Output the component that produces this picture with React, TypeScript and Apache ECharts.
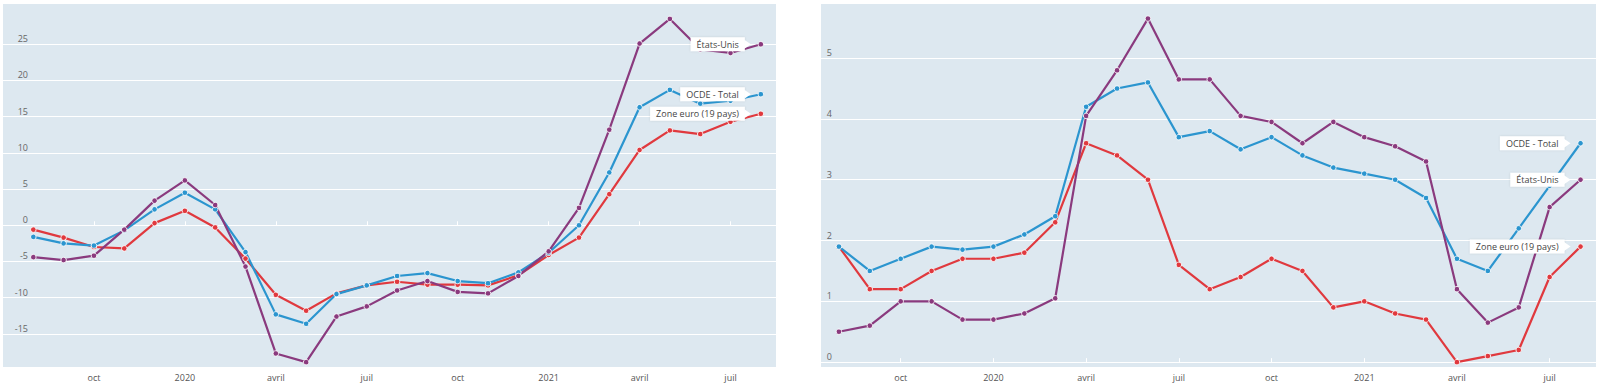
import { useEffect, useRef } from 'react';
import * as echarts from 'echarts';

const months = [
  '2019-08', '2019-09', '2019-10', '2019-11', '2019-12',
  '2020-01', '2020-02', '2020-03', '2020-04', '2020-05', '2020-06',
  '2020-07', '2020-08', '2020-09', '2020-10', '2020-11', '2020-12',
  '2021-01', '2021-02', '2021-03', '2021-04', '2021-05', '2021-06',
  '2021-07', '2021-08',
];

const tickMonths = ['2019-10', '2020-01', '2020-04', '2020-07', '2020-10', '2021-01', '2021-04', '2021-07'];
const tickLabels = ['oct', '2020', 'avril', 'juil', 'oct', '2021', 'avril', 'juil'];

const seriesNames = ['Zone euro (19 pays)', 'OCDE - Total', 'États-Unis'];
const seriesColors = ['#e0393e', '#2b95cf', '#8a3a7e'];

// Left panel
const leftEuro = [-0.6, -1.7, -3.0, -3.2, 0.3, 2.0, -0.3, -4.6, -9.6, -11.8, -9.4, -8.3, -7.8, -8.2, -8.2, -8.3, -6.9, -4.1, -1.7, 4.3, 10.4, 13.1, 12.6, 14.3, 15.4];
const leftOecd = [-1.6, -2.5, -2.8, -0.7, 2.2, 4.5, 2.2, -3.7, -12.3, -13.6, -9.5, -8.3, -7.0, -6.6, -7.7, -8.0, -6.5, -3.8, 0.0, 7.3, 16.3, 18.7, 16.8, 17.2, 18.1];
const leftUs = [-4.4, -4.8, -4.2, -0.6, 3.4, 6.2, 2.8, -5.7, -17.7, -18.9, -12.6, -11.2, -9.0, -7.7, -9.2, -9.4, -7.0, -3.6, 2.4, 13.2, 25.1, 28.5, 24.3, 23.8, 25.0];

// Right panel
const rightEuro = [1.9, 1.2, 1.2, 1.5, 1.7, 1.7, 1.8, 2.3, 3.6, 3.4, 3.0, 1.6, 1.2, 1.4, 1.7, 1.5, 0.9, 1.0, 0.8, 0.7, 0.0, 0.1, 0.2, 1.4, 1.9];
const rightOecd = [1.9, 1.5, 1.7, 1.9, 1.85, 1.9, 2.1, 2.4, 4.2, 4.5, 4.6, 3.7, 3.8, 3.5, 3.7, 3.4, 3.2, 3.1, 3.0, 2.7, 1.7, 1.5, 2.2, 2.9, 3.6];
const rightUs = [0.5, 0.6, 1.0, 1.0, 0.7, 0.7, 0.8, 1.05, 4.05, 4.8, 5.65, 4.65, 4.65, 4.05, 3.95, 3.6, 3.95, 3.7, 3.55, 3.3, 1.2, 0.65, 0.9, 2.55, 3.0];

const leftYTicks = [-15, -10, -5, 0, 5, 10, 15, 20, 25];
const rightYTicks = [0, 1, 2, 3, 4, 5];

function monthIndex(m: string): number {
  const [y, mo] = m.split('-').map(Number);
  return (y - 2019) * 12 + (mo - 7);
}

const FONT = '"Open Sans", "Noto Sans", sans-serif';
const BG = '#dde8f0';

export default function App() {
  const ref = useRef<HTMLDivElement>(null);

  useEffect(() => {
    if (!ref.current) return;
    const chart = echarts.init(ref.current, undefined, { renderer: 'svg' });

    const tickX = tickMonths.map(monthIndex);
    const labelFor = (v: number) => {
      const i = tickX.indexOf(Math.round(v));
      return i >= 0 && Math.abs(v - tickX[i]) < 1e-6 ? tickLabels[i] : '';
    };

    const xAxisCommon = (gridIndex: number, min: number, max: number) => ({
      type: 'value',
      gridIndex,
      min,
      max,
      axisLine: { show: false },
      axisTick: { show: true, inside: true, length: 4, customValues: tickX, lineStyle: { color: '#ffffff', width: 1 } },
      axisLabel: {
        customValues: tickX,
        formatter: (v: number) => labelFor(v),
        color: '#555',
        fontSize: 9,
        fontFamily: FONT,
        margin: 6,
      },
      splitLine: { show: false },
    });

    const yAxisCommon = (gridIndex: number, min: number, max: number, ticks: number[], margin: number) => ({
      type: 'value',
      gridIndex,
      min,
      max,
      axisLine: { show: false },
      axisTick: { show: false, customValues: ticks },
      axisLabel: {
        customValues: ticks,
        inside: true,
        align: 'right',
        verticalAlign: 'bottom',
        margin,
        padding: [0, 0, 1, 0],
        color: '#666',
        fontSize: 9,
        fontFamily: FONT,
        formatter: (v: number) => String(v),
      },
      splitLine: { show: true, lineStyle: { color: '#ffffff', width: 1.2 } },
    });

    const mk = (name: string, color: string, values: number[], xi: number, yi: number) => ({
      type: 'line',
      name,
      xAxisIndex: xi,
      yAxisIndex: yi,
      data: values.map((v, i) => [monthIndex(months[i]), v]),
      symbol: 'circle',
      symbolSize: 5.5,
      showAllSymbol: true,
      lineStyle: { color, width: 2.2 },
      itemStyle: { color, borderColor: 'rgba(255,255,255,0.85)', borderWidth: 1 },
      emphasis: { disabled: true },
    });

    const leftData = [leftEuro, leftOecd, leftUs];
    const rightData = [rightEuro, rightOecd, rightUs];
    const series: any[] = [];
    leftData.forEach((d, k) => series.push(mk(seriesNames[k], seriesColors[k], d, 0, 0)));
    rightData.forEach((d, k) => series.push(mk(seriesNames[k], seriesColors[k], d, 1, 1)));

    chart.setOption({
      animation: false,
      backgroundColor: '#ffffff',
      textStyle: { fontFamily: FONT },
      grid: [
        { left: 3, right: 824, top: 4, bottom: 24, show: true, backgroundColor: BG, borderWidth: 0 },
        { left: 821, right: 4, top: 4, bottom: 24, show: true, backgroundColor: BG, borderWidth: 0 },
      ],
      xAxis: [xAxisCommon(0, 0, 25.5), xAxisCommon(1, 0.42, 25.5)],
      yAxis: [
        yAxisCommon(0, -19.57, 30.56, leftYTicks, 25),
        yAxisCommon(1, -0.08, 5.89, rightYTicks, 11),
      ],
      series,
    });

    // End-of-line callout labels, positioned through the library's scales
    const graphics: any[] = [];
    series.forEach((s, i) => {
      const last = s.data[s.data.length - 1];
      const p = chart.convertToPixel({ seriesIndex: i }, last) as number[];
      if (!p) return;
      const [px, py] = p;
      const right = px - 16;
      graphics.push({
        type: 'group',
        z: 100,
        children: [
          {
            type: 'text',
            x: right,
            y: py,
            z: 101,
            style: {
              text: s.name,
              font: `9px ${FONT}`,
              fill: '#444',
              align: 'right',
              verticalAlign: 'middle',
              lineHeight: 10,
              backgroundColor: '#ffffff',
              padding: [2, 6, 2, 6],
              shadowBlur: 2,
              shadowColor: 'rgba(0,0,0,0.12)',
            },
          },
          {
            type: 'polygon',
            z: 102,
            shape: { points: [[right - 0.5, py - 4.5], [px - 10, py], [right - 0.5, py + 4.5]] },
            style: { fill: '#ffffff' },
          },
        ],
      });
    });
    chart.setOption({ graphic: graphics });

    return () => chart.dispose();
  }, []);

  return (
    <div
      ref={ref}
      style={{ position: 'fixed', left: 0, top: 0, width: 1600, height: 391, background: '#fff' }}
    />
  );
}
